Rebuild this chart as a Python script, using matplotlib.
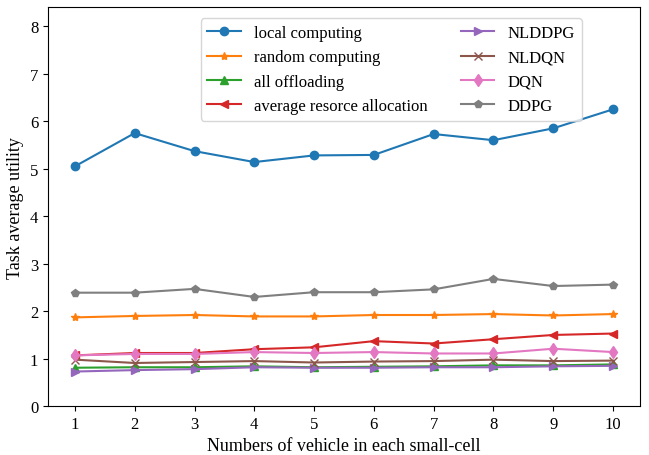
import matplotlib.pyplot as plt

plt.rcParams['font.family'] = ['Liberation Serif']

x = [1, 2, 3, 4, 5, 6, 7, 8, 9, 10]
local = [5.05, 5.75, 5.37, 5.14, 5.28, 5.29, 5.73, 5.60, 5.85, 6.25]
random_c = [1.87, 1.90, 1.92, 1.89, 1.89, 1.92, 1.92, 1.94, 1.91, 1.94]
all_off = [0.81, 0.82, 0.82, 0.84, 0.82, 0.83, 0.84, 0.86, 0.86, 0.88]
avg_res = [1.07, 1.12, 1.12, 1.20, 1.24, 1.37, 1.32, 1.41, 1.50, 1.53]
nlddpg = [0.73, 0.76, 0.78, 0.82, 0.81, 0.81, 0.82, 0.82, 0.84, 0.85]
nldqn = [0.98, 0.91, 0.93, 0.95, 0.92, 0.94, 0.95, 0.98, 0.95, 0.96]
dqn = [1.07, 1.10, 1.10, 1.14, 1.12, 1.14, 1.11, 1.11, 1.21, 1.14]
ddpg = [2.39, 2.39, 2.47, 2.30, 2.40, 2.40, 2.46, 2.68, 2.53, 2.56]

series = [
    (local, 'local computing', 'o'),
    (random_c, 'random computing', '*'),
    (all_off, 'all offloading', '^'),
    (avg_res, 'average resorce allocation', '<'),
    (nlddpg, 'NLDDPG', '>'),
    (nldqn, 'NLDQN', 'x'),
    (dqn, 'DQN', 'd'),
    (ddpg, 'DDPG', 'p'),
]

fig = plt.figure(figsize=(6.49, 4.56), dpi=100)
ax = fig.add_axes([0.074, 0.107, 0.912, 0.875])
for i, (y, label, m) in enumerate(series):
    ax.plot(x, y, marker=m, color='C%d' % i, label=label, markersize=6)

ax.set_ylim(0, 8.4)
ax.set_xlim(0.55, 10.45)
ax.set_xticks(x)
ax.set_yticks(range(0, 9))
ax.tick_params(labelsize=12)
ax.set_xlabel('Numbers of vehicle in each small-cell', fontsize=13)
ax.set_ylabel('Task average utility', fontsize=13)
ax.legend(ncol=2, loc='upper left', fontsize=12, bbox_to_anchor=(0.258, 0.972),
          borderaxespad=0, columnspacing=2.0)
fig.savefig('out.png')
